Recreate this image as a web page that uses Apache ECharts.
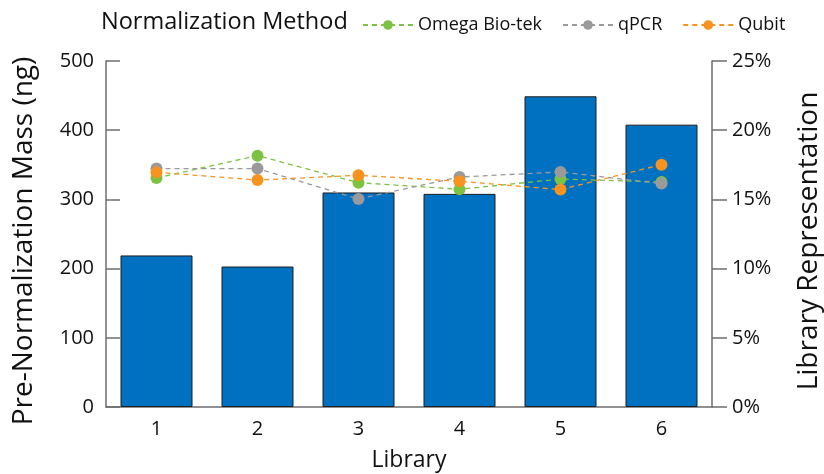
<!DOCTYPE html>
<html>
<head>
<meta charset="utf-8">
<script src="https://cdn.jsdelivr.net/npm/echarts@6/dist/echarts.min.js"></script>
<style>
  html, body { margin: 0; padding: 0; background: #fff; }
  #chart { width: 824px; height: 474px; }
</style>
</head>
<body>
<div id="chart"></div>
<script>
var libraries = ['1', '2', '3', '4', '5', '6'];
var massNg = [219, 203, 310, 308, 449, 408];
// library representation, %
var omegaBiotek = [16.55, 18.16, 16.21, 15.73, 16.47, 16.26];
var qpcr = [17.23, 17.23, 15.03, 16.62, 16.98, 16.14];
var qubit = [16.96, 16.40, 16.74, 16.31, 15.71, 17.51];

var font = '"Open Sans", "Noto Sans", sans-serif';
var axisGrey = '#6e6e6e';

function lineSeries(name, data, color) {
  return {
    name: name,
    type: 'line',
    yAxisIndex: 1,
    data: data,
    symbol: 'circle',
    symbolSize: 12,
    itemStyle: { color: color },
    lineStyle: { color: color, width: 1.3, type: [5, 4] },
    z: 3
  };
}

var myChart = echarts.init(document.getElementById('chart'));

var option = {
  animation: false,
  textStyle: { fontFamily: font },
  title: {
    text: 'Normalization Method',
    left: 96,
    top: 5,
    textStyle: { fontFamily: font, fontSize: 23.5, fontWeight: 'normal', color: '#111' }
  },
  legend: {
    left: 357,
    top: 11,
    itemWidth: 50,
    itemHeight: 12,
    itemGap: 20,
    textStyle: { fontFamily: font, fontSize: 18, color: '#111' },
    data: ['Omega Bio-tek', 'qPCR', 'Qubit']
  },
  grid: { left: 106, right: 112, top: 61, bottom: 67, outerBoundsMode: 'none' },
  xAxis: {
    type: 'category',
    data: libraries,
    name: 'Library',
    nameLocation: 'middle',
    nameGap: 42,
    nameTextStyle: { fontSize: 23, color: '#111' },
    axisLine: { lineStyle: { color: axisGrey, width: 1.5 } },
    axisTick: { inside: true, length: 10, lineStyle: { color: axisGrey } },
    axisLabel: { fontSize: 20, color: '#111', margin: 12 }
  },
  yAxis: [
    {
      type: 'value',
      min: 0,
      max: 500,
      interval: 100,
      name: 'Pre-Normalization Mass (ng)',
      nameLocation: 'middle',
      nameGap: 68,
      nameTextStyle: { fontSize: 28, color: '#111', padding: [0, 14, 0, 0] },
      axisLine: { show: true, lineStyle: { color: axisGrey, width: 1.5 } },
      axisTick: { show: true, inside: true, length: 14, lineStyle: { color: axisGrey, width: 1.5 } },
      axisLabel: { fontSize: 20, color: '#111', margin: 12 },
      splitLine: { show: false }
    },
    {
      type: 'value',
      min: 0,
      max: 25,
      interval: 5,
      name: 'Library Representation',
      nameLocation: 'middle',
      nameGap: 83,
      nameTextStyle: { fontSize: 28, color: '#111', padding: [0, 14, 0, 0] },
      axisLine: { show: true, lineStyle: { color: axisGrey, width: 1.5 } },
      axisTick: { show: true, inside: false, length: 15, lineStyle: { color: axisGrey, width: 1.5 } },
      axisLabel: { fontSize: 20, color: '#111', margin: 20, formatter: '{value}%' },
      splitLine: { show: false }
    }
  ],
  series: [
    {
      name: 'Mass',
      type: 'bar',
      data: massNg,
      barWidth: 72,
      itemStyle: { color: '#0070c0', borderColor: '#1f1f1f', borderWidth: 1 },
      z: 2
    },
    lineSeries('Omega Bio-tek', omegaBiotek, '#7dc242'),
    lineSeries('qPCR', qpcr, '#9a9a9a'),
    lineSeries('Qubit', qubit, '#f7931e')
  ]
};

option && myChart.setOption(option);
</script>
</body>
</html>
